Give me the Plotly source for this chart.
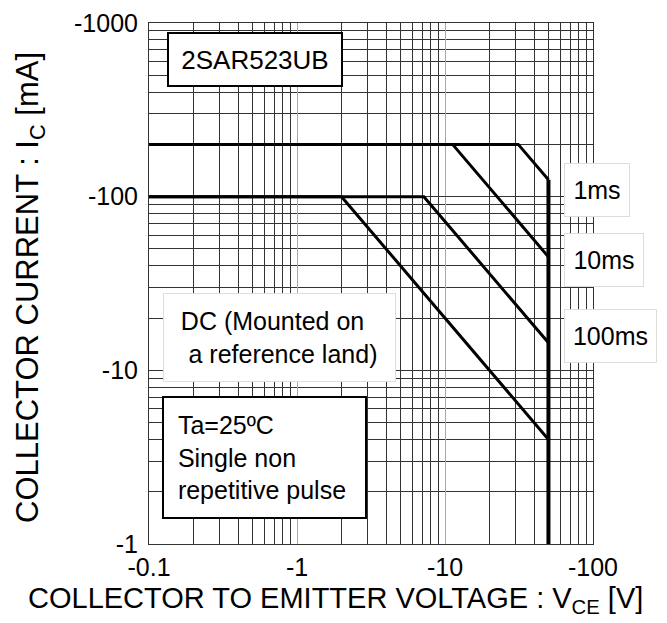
import plotly.graph_objects as go

# ---- data ----
v_1ms = [0.1, 31.25, 50]
i_1ms = [200, 200, 125]
v_10ms = [0.1, 11.25, 50]
i_10ms = [200, 200, 45]
v_100ms = [0.1, 7.2, 50]
i_100ms = [100, 100, 14.4]
v_dc = [0.1, 2.0, 50]
i_dc = [100, 100, 4.0]
v_limit = [50, 50]
i_limit = [125, 1]

x_tickvals = [0.1, 1, 10, 100]
x_ticktext = ["-0.1", "-1", "-10", "-100"]
y_tickvals = [1, 10, 100, 1000]
y_ticktext = ["-1", "-10", "-100", "-1000"]

x_minor = [m * 10.0 ** e for e in (-1, 0, 1) for m in range(2, 10)]
y_minor = [m * 10.0 ** e for e in (0, 1, 2) for m in range(2, 10)]

FONT = "Liberation Sans, Arial, sans-serif"

fig = go.Figure()
for xs, ys, w in [(v_1ms, i_1ms, 3), (v_10ms, i_10ms, 3), (v_100ms, i_100ms, 3),
                  (v_dc, i_dc, 3), (v_limit, i_limit, 4)]:
    fig.add_trace(go.Scatter(x=xs, y=ys, mode="lines",
                             line=dict(color="black", width=w),
                             showlegend=False, hoverinfo="skip"))

OFF = 8  # browser body margin
L, T = 149 - OFF, 23 - OFF
W, H = 667, 623
pw, ph = 444, 521
R = W - L - pw
B = H - T - ph


def px(xs):
    return (xs - OFF - L) / pw


def py(ys):
    return (T + ph - (ys - OFF)) / ph


fig.update_layout(
    width=W, height=H, autosize=False,
    margin=dict(l=L, r=R, t=T, b=B, pad=0, autoexpand=False),
    paper_bgcolor="white", plot_bgcolor="white",
    font=dict(family=FONT, color="black", size=25),
    xaxis=dict(type="log", range=[-1, 2], automargin=False,
               tickmode="array", tickvals=x_tickvals, ticktext=x_ticktext,
               showgrid=True, gridcolor="#a8a8a8", gridwidth=1,
               minor=dict(tickmode="array", tickvals=x_minor, showgrid=True,
                          gridcolor="#333333", gridwidth=1, ticks=""),
               showline=True, mirror=True, linecolor="#333333", linewidth=1,
               ticks="", zeroline=False, tickfont=dict(size=25),
               ticklabelstandoff=1),
    yaxis=dict(type="log", range=[0, 3], automargin=False,
               tickmode="array", tickvals=y_tickvals, ticktext=y_ticktext,
               showgrid=True, gridcolor="#333333", gridwidth=1,
               minor=dict(tickmode="array", tickvals=y_minor, showgrid=True,
                          gridcolor="#333333", gridwidth=1, ticks=""),
               showline=True, mirror=True, linecolor="#333333", linewidth=1,
               ticks="", zeroline=False, tickfont=dict(size=25),
               ticklabelstandoff=5),
)

annos = []
# axis titles
annos.append(dict(text="COLLECTOR TO EMITTER VOLTAGE : V<sub>CE</sub> [V]",
                  xref="paper", yref="paper", x=px(335), y=py(600),
                  xanchor="center", yanchor="middle", showarrow=False,
                  font=dict(size=29)))
annos.append(dict(text="COLLECTOR CURRENT : I<sub>C</sub> [mA]",
                  xref="paper", yref="paper", x=px(30), y=py(288),
                  xanchor="center", yanchor="middle", showarrow=False,
                  textangle=-90, font=dict(size=31)))


def box(text, left, top, w, h, bw, bc, align="center", size=25):
    return dict(text=text, xref="paper", yref="paper", x=px(left), y=py(top),
                xanchor="left", yanchor="top", showarrow=False,
                width=w - 2 * bw, height=h - 2 * bw, borderpad=0,
                borderwidth=bw, bordercolor=bc, bgcolor="white",
                align=align, valign="middle", font=dict(size=size))


NB = "\u00a0"
annos.append(box("2SAR523UB", 167, 32, 176, 55, 2, "black", size=26))
annos.append(box("DC (Mounted on" + NB * 2 + "<br>" + NB + "a reference land)",
                 163, 293, 233, 89, 1, "#dddddd"))
annos.append(box(NB * 2 + "Ta=25ºC<br>" + NB * 2 + "Single non<br>" + NB * 2 + "repetitive pulse",
                 162, 396, 205, 123, 2, "black", align="left"))
annos.append(box("1ms", 564, 163, 66, 54, 1, "#dddddd"))
annos.append(box("10ms", 564, 233, 80, 54, 1, "#dddddd"))
annos.append(box("100ms", 564, 309, 93, 54, 1, "#dddddd"))

fig.update_layout(annotations=annos)
fig.write_html("out.html")
